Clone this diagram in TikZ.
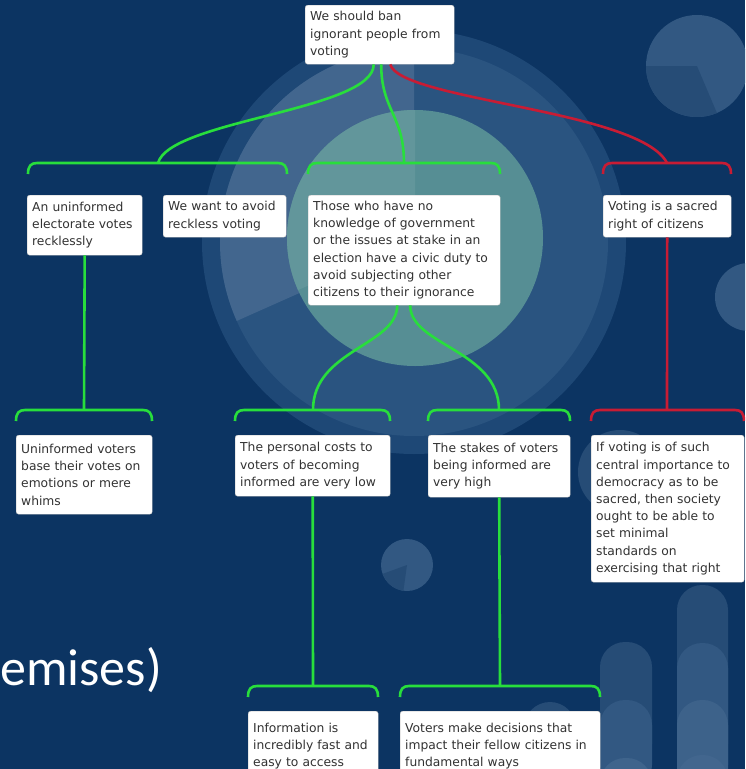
\documentclass[tikz,border=0pt]{standalone}
\usepackage{fontspec}
\setmainfont{DejaVu Sans}
\newfontfamily\titlefont{Carlito}
\definecolor{bgc}{RGB}{12,52,98}
\definecolor{ringc}{RGB}{30,72,118}
\definecolor{discc}{RGB}{42,84,128}
\definecolor{sectc}{RGB}{66,102,142}
\definecolor{tealc}{RGB}{86,142,148}
\definecolor{teallc}{RGB}{98,150,155}
\definecolor{decoc}{RGB}{50,88,130}
\definecolor{decodc}{RGB}{38,76,118}
\definecolor{gline}{RGB}{40,222,60}
\definecolor{rline}{RGB}{200,28,52}
\definecolor{txtc}{RGB}{50,50,50}
\begin{document}
\begin{tikzpicture}[x=1pt,y=-1pt,
  argbox/.style={draw=black!25, fill=white, rounded corners=2.5pt, anchor=north west,
    align=left, inner xsep=5pt, inner ysep=3.5pt, font=\fontsize{12.3}{17.2}\selectfont,
    text=txtc},
  gconn/.style={draw=gline, line width=2.6pt},
  rconn/.style={draw=rline, line width=2.6pt},
  pill/.style={rounded corners=25pt}
]
\useasboundingbox (0,0) rectangle (745,769);
\clip (0,0) rectangle (745,769);
% background
\fill[bgc] (0,0) rectangle (745,769);
% big pie circle
\fill[ringc] (414,242) circle[radius=212];
\fill[discc] (414,242) circle[radius=194];
\fill[sectc] (414,242) -- (414,48) arc[start angle=-90, end angle=-204, radius=194] -- cycle;
\fill[tealc] (415,238) circle[radius=128];
\fill[teallc] (415,238) -- (415,110) arc[start angle=-90, end angle=-204, radius=128] -- cycle;
% top right pie
\fill[decoc] (697,66) circle[radius=51];
\fill[decodc] (697,66) -- (646,66) arc[start angle=-180, end angle=-293, radius=51] -- cycle;
% right edge circle
\fill[decoc] (749,297) circle[radius=34];
% small pie
\fill[decoc] (407,565) circle[radius=26];
\fill[decodc] (407,565) -- ++(-24.4,8.9) arc[start angle=-200, end angle=-262, radius=26] -- cycle;
% faint circles
\fill[decodc] (620,472) circle[radius=42];
\fill[decodc] (550,728) circle[radius=26];
% pills
\fill[decodc,pill] (600,769) -- (600,642) -- (652,642) -- (652,769) -- cycle;
\fill[decoc,pill] (600,790) -- (600,700) -- (652,700) -- (652,790) -- cycle;
\fill[sectc!85!decoc,pill] (600,800) -- (600,758) -- (652,758) -- (652,800) -- cycle;
\fill[decodc,pill] (677,769) -- (677,585) -- (728,585) -- (728,769) -- cycle;
\fill[decoc,pill] (677,790) -- (677,643) -- (728,643) -- (728,790) -- cycle;
\fill[sectc!70!decoc,pill] (677,800) -- (677,700) -- (728,700) -- (728,800) -- cycle;
\fill[sectc,pill] (677,810) -- (677,755) -- (728,755) -- (728,810) -- cycle;
% title fragment
\node[anchor=base west, inner sep=0, text=white, font=\titlefont\fontsize{52}{54}\selectfont] (title) at (0,685) {emises)};

% argument boxes
\node[argbox, text width=139pt, minimum height=59pt] (T) at (305,5) {We should ban\\ignorant people from\\voting};
\node[argbox, text width=105pt, minimum height=60pt] (A) at (27,195) {An uninformed\\electorate votes\\recklessly};
\node[argbox, text width=113pt, minimum height=42pt] (B) at (163,195) {We want to avoid\\reckless voting};
\node[argbox, text width=182pt, minimum height=110pt] (C) at (308,195) {Those who have no\\knowledge of government\\or the issues at stake in an\\election have a civic duty to\\avoid subjecting other\\citizens to their ignorance};
\node[argbox, text width=118pt, minimum height=42pt] (D) at (603,195) {Voting is a sacred\\right of citizens};
\node[argbox, text width=126pt, minimum height=79pt] (E) at (16,435) {Uninformed voters\\base their votes on\\emotions or mere\\whims};
\node[argbox, text width=145pt, minimum height=61pt] (F) at (235,435) {The personal costs to\\voters of becoming\\informed are very low};
\node[argbox, text width=132pt, minimum height=62pt] (G) at (428,435) {The stakes of voters\\being informed are\\very high};
\node[argbox, text width=143pt, minimum height=147pt] (H) at (591,435) {If voting is of such\\central importance to\\democracy as to be\\sacred, then society\\ought to be able to\\set minimal\\standards on\\exercising that right};
\node[argbox, text width=120pt, minimum height=70pt] (I) at (248,711) {Information is\\incredibly fast and\\easy to access};
\node[argbox, text width=190pt, minimum height=70pt] (J) at (400,711) {Voters make decisions that\\impact their fellow citizens in\\fundamental ways};

% bracket junctions
\coordinate (j1) at (158,163);
\coordinate (j2) at (404,163);
\coordinate (j3) at (667,163);
\coordinate (j4) at (84,410);
\coordinate (j5) at (313,410);
\coordinate (j6) at (499,410);
\coordinate (j7) at (667,410);
\coordinate (j8) at (313,686);
\coordinate (j9) at (500,686);

% brackets
\newcommand\bracketline[4]{%
  \draw[#1] (#2,#4+11) .. controls (#2,#4+3) and (#2+3,#4) .. (#2+9,#4) -- (#3-9,#4)
    .. controls (#3-3,#4) and (#3,#4+3) .. (#3,#4+11);}
\bracketline{gconn}{28}{287}{163}
\bracketline{gconn}{308}{500}{163}
\bracketline{rconn}{603}{731}{163}
\bracketline{gconn}{16}{152}{410}
\bracketline{gconn}{235}{390}{410}
\bracketline{gconn}{428}{570}{410}
\bracketline{rconn}{591}{744}{410}
\bracketline{gconn}{248}{378}{686}
\bracketline{gconn}{400}{600}{686}

% connectors
\draw[gconn] ([xshift=-6pt]T.south) .. controls +(0,46) and +(12,-43) .. (j1);
\draw[gconn] ([xshift=1.5pt]T.south) .. controls +(0,46) and +(0,-48) .. (j2);
\draw[rconn] ([xshift=10.5pt]T.south) .. controls +(10,36) and +(-27,-53) .. (j3);
\draw[gconn] (A.south) -- (j4);
\draw[gconn] ([xshift=-7pt]C.south) .. controls +(0,40) and +(0,-60) .. (j5);
\draw[gconn] ([xshift=6pt]C.south) .. controls +(0,40) and +(0,-60) .. (j6);
\draw[rconn] (D.south) -- (j7);
\draw[gconn] (F.south) -- (j8);
\draw[gconn] (G.south) -- (j9);
\end{tikzpicture}
\end{document}
